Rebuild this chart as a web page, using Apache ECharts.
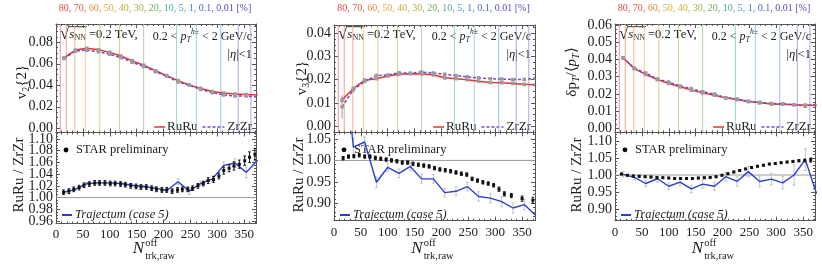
<!DOCTYPE html>
<html><head><meta charset="utf-8">
<script src="https://cdn.jsdelivr.net/npm/echarts@6/dist/echarts.min.js"></script>
<style>html,body{margin:0;padding:0;background:#fff}#c{width:822px;height:264px}</style>
</head><body><div id="c"></div>
<script>
// ---------------- data ----------------
const trajX = [15,36,57,79,100,121,142,163,185,206,227,248,269,291,312,333,354,375];

const v2RuRu = [0.0655,0.0728,0.0744,0.0730,0.0706,0.0672,0.0627,0.0587,0.0535,0.0490,0.0443,0.0404,0.0371,0.0342,0.0328,0.0318,0.0314,0.0310];
const v2ZrZr = [0.0649,0.0718,0.0727,0.0712,0.0689,0.0656,0.0614,0.0576,0.0527,0.0484,0.0431,0.0400,0.0362,0.0331,0.0311,0.0300,0.0301,0.0291];
const v2Err  = [0.0008,0.0007,0.0007,0.0007,0.0007,0.0007,0.0007,0.0007,0.0007,0.0007,0.0007,0.0007,0.0007,0.0007,0.0008,0.0008,0.0009,0.0010];

const v3RuRu = [0.0112,0.0162,0.0198,0.0204,0.0216,0.0223,0.0226,0.0225,0.0221,0.0208,0.0204,0.0200,0.0193,0.0188,0.0187,0.0184,0.0180,0.0178];
const v3ZrZr = [0.0083,0.0157,0.0192,0.0218,0.0220,0.0230,0.0228,0.0233,0.0229,0.0223,0.0218,0.0212,0.0208,0.0204,0.0203,0.0201,0.0201,0.0206];
const v3RuErr = [0.0012,0.0008,0.0006,0.0005,0.0005,0.0005,0.0005,0.0005,0.0005,0.0005,0.0005,0.0005,0.0005,0.0005,0.0005,0.0005,0.0006,0.0006];
const v3ZrErr = [0.0050,0.0012,0.0006,0.0005,0.0005,0.0005,0.0005,0.0005,0.0005,0.0005,0.0005,0.0005,0.0005,0.0005,0.0005,0.0005,0.0006,0.0006];

const dptRuRu = [0.0410,0.0347,0.0313,0.0283,0.0260,0.0241,0.0222,0.0206,0.0192,0.0177,0.0167,0.0157,0.0148,0.0142,0.0140,0.0137,0.0135,0.0132];
const dptZrZr = [0.0409,0.0349,0.0321,0.0286,0.0269,0.0246,0.0231,0.0212,0.0199,0.0178,0.0170,0.0155,0.0151,0.0144,0.0143,0.0137,0.0129,0.0140];
const dptErr  = [0.0004,0.0003,0.0003,0.0003,0.0003,0.0003,0.0003,0.0003,0.0003,0.0003,0.0003,0.0003,0.0003,0.0003,0.0003,0.0003,0.0003,0.0004];

const ratioV2Traj = [1.009,1.014,1.024,1.025,1.025,1.024,1.021,1.019,1.016,1.012,1.027,1.011,1.024,1.032,1.055,1.059,1.043,1.064];
const ratioV2Err  = [0.002,0.002,0.002,0.002,0.002,0.002,0.002,0.002,0.003,0.003,0.005,0.006,0.004,0.005,0.006,0.007,0.009,0.014];
const ratioV3Traj = [1.300,1.031,1.043,0.949,0.984,0.970,0.986,0.957,0.957,0.925,0.928,0.939,0.916,0.912,0.904,0.889,0.897,0.872];
const ratioV3Err  = [0.080,0.020,0.012,0.012,0.010,0.010,0.010,0.010,0.010,0.010,0.010,0.010,0.011,0.011,0.012,0.012,0.012,0.014];
const ratioDptTraj = [1.002,0.993,0.975,0.989,0.967,0.979,0.959,0.973,0.967,0.995,0.981,1.010,0.981,0.988,0.977,1.000,1.045,0.945];
const ratioDptErr  = [0.008,0.008,0.009,0.010,0.010,0.010,0.011,0.012,0.012,0.013,0.014,0.015,0.016,0.017,0.018,0.030,0.032,0.055];

const starX1 = [14,24,33,43,52,62,72,81,91,101,110,120,129,139,149,158,168,178,187,197,206,216,226,235,245,254,264,274,283,293,303,312,322,331,341,351,360,370];
const starV2 = [1.009,1.011,1.014,1.017,1.021,1.023,1.025,1.025,1.025,1.024,1.024,1.023,1.022,1.020,1.019,1.018,1.018,1.016,1.014,1.013,1.013,1.011,1.013,1.014,1.014,1.016,1.020,1.024,1.029,1.031,1.037,1.046,1.050,1.054,1.057,1.063,1.069,1.074];
const starV2Err = [0.004,0.004,0.004,0.004,0.004,0.004,0.004,0.004,0.004,0.004,0.004,0.004,0.004,0.004,0.004,0.004,0.004,0.004,0.004,0.004,0.004,0.004,0.004,0.004,0.004,0.004,0.004,0.004,0.005,0.005,0.005,0.006,0.006,0.007,0.007,0.008,0.009,0.010];

const starX2 = [17,27,37,47,57,67,77,87,97,107,117,127,137,147,157,167,177,187,197,207,217,227,237,247,257,267,277,287,297,307,317,330,350,370];
const starV3 = [1.005,1.009,1.010,1.012,1.009,1.009,1.006,1.004,1.002,1.000,0.998,0.995,0.995,0.992,0.990,0.988,0.986,0.982,0.979,0.977,0.975,0.972,0.969,0.967,0.957,0.953,0.949,0.946,0.942,0.933,0.922,0.918,0.911,0.907];
const starV3Err = [0.004,0.004,0.004,0.004,0.004,0.004,0.004,0.004,0.004,0.004,0.004,0.004,0.004,0.004,0.004,0.004,0.004,0.004,0.004,0.004,0.004,0.004,0.004,0.004,0.004,0.004,0.004,0.004,0.004,0.005,0.005,0.005,0.006,0.007];

const starX3 = [12,23,34,45,56,67,78,89,100,111,122,133,144,155,166,177,188,199,210,221,232,243,254,265,276,287,298,309,320,331,342,353,364];
const starDpt = [1.003,0.999,0.997,0.996,0.995,0.994,0.993,0.992,0.991,0.990,0.990,0.990,0.990,0.991,0.992,0.993,0.995,0.999,1.004,1.009,1.013,1.018,1.022,1.026,1.029,1.032,1.034,1.036,1.038,1.040,1.042,1.043,1.044];
const starDptErr = [0.002,0.002,0.002,0.002,0.002,0.002,0.002,0.002,0.002,0.002,0.002,0.002,0.002,0.002,0.002,0.002,0.002,0.002,0.002,0.002,0.002,0.002,0.002,0.002,0.002,0.002,0.002,0.002,0.002,0.003,0.003,0.004,0.006];

const centralityPct = ['80','70','60','50','40','30','20','10','5','1','0.1','0.01'];
const centralityN = [8,19,35,54.5,81.5,118,163,224,261,306.5,339,362.5];
const centralityLineColors = ['#f27b7b','#f28a72','#f3a272','#f1bf7a','#d9c472','#bfcb7c','#9cc993','#88c9b9','#92c2e2','#8aaaea','#8e96ea','#9c8ae2'];
const centralityTextColors = ['#e8463c','#e8603a','#ee8a3a','#e8a83c','#c8ac38','#a6b23e','#6cae5e','#4aa896','#3f9fc6','#3b7fd8','#4a5fd8','#5a48cc'];

const xTicks = [0,50,100,150,200,250,300,350];
const yTicksV2 = [0.00,0.02,0.04,0.06,0.08];
const yTicksV3 = [0.00,0.01,0.02,0.03,0.04];
const yTicksDpt = [0.00,0.01,0.02,0.03,0.04,0.05,0.06];
const yTicksR1 = [0.96,0.98,1.00,1.02,1.04,1.06,1.08,1.10];
const yTicksR2 = [0.90,0.95,1.00,1.05];
const yTicksR3 = [0.90,0.95,1.00,1.05,1.10];

// ---------------- helpers ----------------
const FONT = '"Liberation Serif","Times New Roman",serif';
const TXT = '#1c1c1c', FR = '#555555';
const RED = '#e4352b', PURPLE = '#7b43c9', BLUE = '#2b3fd6';
const zip3 = (a,b,c) => a.map((v,i)=>[v,b[i],c[i]]);
const zip2 = (a,b) => a.map((v,i)=>[v,b[i]]);
function minorVals(lo, hi, step, majors){
  const out=[]; const n=Math.round((hi-lo)/step);
  for(let k=0;k<=n;k++){ const v=+(lo+k*step).toFixed(6); if(!majors.some(m=>Math.abs(m-v)<1e-9)) out.push(v); }
  return out;
}

const panels = [
  {l:56,  w:200, t:24, m:132.5, b:223.5, xMax:372, yT:[-0.0039,0.097],  yB:[0.9557,1.1111], tT:yTicksV2,  tB:yTicksR1, sT:0.005, sB:0.005, mT:[0,0.095], mB:[0.96,1.11]},
  {l:334, w:201, t:25, m:132.3, b:220.7, xMax:374, yT:[-0.0027,0.0436], yB:[0.8594,1.0656], tT:yTicksV3,  tB:yTicksR2, sT:0.0025, sB:0.01, mT:[0,0.0425], mB:[0.86,1.06]},
  {l:615, w:200, t:24, m:132.3, b:220.7, xMax:372, yT:[-0.0023,0.0606], yB:[0.8656,1.1256], tT:yTicksDpt, tB:yTicksR3, sT:0.0025, sB:0.01, mT:[0,0.06], mB:[0.87,1.12]}
];

const grids=[], xAxes=[], yAxes=[], series=[];
const xMinor = minorVals(0, 370, 10, xTicks);

panels.forEach((P,pi)=>{
  [0,1].forEach(half=>{
    const gi = pi*2+half;
    const top = half===0 ? P.t : P.m;
    const h = half===0 ? P.m-P.t : P.b-P.m;
    grids.push({left:P.l, top:top, width:P.w, height:h, containLabel:false});
    const showX = half===1;
    const yr = half===0 ? P.yT : P.yB;
    const yt = half===0 ? P.tT : P.tB;
    const ytA = yt.filter((v,i)=>i%2===0), ytB = yt.filter((v,i)=>i%2===1);
    const ym = half===0 ? minorVals(P.mT[0],P.mT[1],P.sT,yt) : minorVals(P.mB[0],P.mB[1],P.sB,yt);
    const xbase = {gridIndex:gi, type:'value', min:0, max:P.xMax, splitLine:{show:false}};
    const ybase = {gridIndex:gi, type:'value', min:yr[0], max:yr[1], splitLine:{show:false}};
    const line = {show:true, onZero:false, lineStyle:{color:FR, width:1}};
    const noline = {show:false, onZero:false};
    const ylab = {show:true, margin:3, fontFamily:FONT, fontSize:14, color:TXT, showMinLabel:true, showMaxLabel:true, hideOverlap:false, formatter:v=>v.toFixed(2)};
    xAxes.push(Object.assign({}, xbase, {position:'bottom', axisLine:line,
      axisTick:{show:true, inside:true, length:4, customValues:xTicks, lineStyle:{color:FR}},
      axisLabel:{show:showX, customValues:xTicks, margin:5, fontFamily:FONT, fontSize:13, color:TXT, showMinLabel:true, showMaxLabel:true, hideOverlap:false}}));
    xAxes.push(Object.assign({}, xbase, {position:'bottom', axisLine:noline,
      axisTick:{show:true, inside:true, length:2, customValues:xMinor, lineStyle:{color:FR}}, axisLabel:{show:false}}));
    xAxes.push(Object.assign({}, xbase, {position:'top', axisLine:line,
      axisTick:{show:true, inside:true, length:4, customValues:xTicks, lineStyle:{color:FR}}, axisLabel:{show:false}}));
    xAxes.push(Object.assign({}, xbase, {position:'top', axisLine:noline,
      axisTick:{show:true, inside:true, length:2, customValues:xMinor, lineStyle:{color:FR}}, axisLabel:{show:false}}));
    yAxes.push(Object.assign({}, ybase, {position:'left', axisLine:line,
      axisTick:{show:true, inside:true, length:4, customValues:yt, lineStyle:{color:FR}},
      axisLabel:Object.assign({customValues:ytA}, ylab)}));
    yAxes.push(Object.assign({}, ybase, {position:'left', axisLine:noline,
      axisTick:{show:true, inside:true, length:2, customValues:ym, lineStyle:{color:FR}},
      axisLabel:Object.assign({customValues:ytB}, ylab)}));
    yAxes.push(Object.assign({}, ybase, {position:'right', axisLine:line,
      axisTick:{show:true, inside:true, length:4, customValues:yt, lineStyle:{color:FR}}, axisLabel:{show:false}}));
    yAxes.push(Object.assign({}, ybase, {position:'right', axisLine:noline,
      axisTick:{show:true, inside:true, length:2, customValues:ym, lineStyle:{color:FR}}, axisLabel:{show:false}}));
  });
});

function ax(gi){ return {xAxisIndex:gi*4, yAxisIndex:gi*4}; }

function errRender(color, cap, sq, lw){
  return function(params, api){
    const x=api.value(0), y=api.value(1), e=api.value(2);
    const c=api.coord([x,y]), hi=api.coord([x,y+e]), lo=api.coord([x,y-e]);
    const st={stroke:color, lineWidth:lw};
    const ch=[{type:'line', shape:{x1:c[0],y1:hi[1],x2:c[0],y2:lo[1]}, style:st}];
    if(cap){
      ch.push({type:'line', shape:{x1:c[0]-cap,y1:hi[1],x2:c[0]+cap,y2:hi[1]}, style:st});
      ch.push({type:'line', shape:{x1:c[0]-cap,y1:lo[1],x2:c[0]+cap,y2:lo[1]}, style:st});
    }
    if(sq){ ch.push({type:'rect', shape:{x:c[0]-sq/2,y:c[1]-sq/2,width:sq,height:sq}, style:{fill:color}}); }
    return {type:'group', children:ch};
  };
}
function vlineRender(params, api){
  const x=api.coord([api.value(0), 0])[0];
  const cs=params.coordSys;
  return {type:'line', shape:{x1:x,y1:cs.y,x2:x,y2:cs.y+cs.height}, style:{stroke:centralityLineColors[params.dataIndex], lineWidth:1, opacity:0.8}};
}
function hlineRender(params, api){
  const y=api.coord([0, api.value(1)])[1];
  const cs=params.coordSys;
  return {type:'line', shape:{x1:cs.x,y1:y,x2:cs.x+cs.width,y2:y}, style:{stroke:'#9a9a9a', lineWidth:1}};
}

const topData = [
  {ru:v2RuRu, zr:v2ZrZr, ruE:v2Err, zrE:v2Err},
  {ru:v3RuRu, zr:v3ZrZr, ruE:v3RuErr, zrE:v3ZrErr},
  {ru:dptRuRu, zr:dptZrZr, ruE:dptErr, zrE:dptErr}
];
const botData = [
  {tr:ratioV2Traj, trE:ratioV2Err, sx:starX1, sv:starV2, sE:starV2Err},
  {tr:ratioV3Traj, trE:ratioV3Err, sx:starX2, sv:starV3, sE:starV3Err},
  {tr:ratioDptTraj, trE:ratioDptErr, sx:starX3, sv:starDpt, sE:starDptErr}
];

panels.forEach((P,pi)=>{
  const gt=pi*2, gb=pi*2+1;
  const T=topData[pi], B=botData[pi];
  series.push(Object.assign({type:'custom', renderItem:vlineRender, data:centralityN.map((v,i)=>[v,i]), encode:{x:0,y:1}, silent:true, z:1, clip:true}, ax(gt)));
  series.push(Object.assign({type:'line', data:zip2(trajX,T.ru), showSymbol:false, lineStyle:{color:RED,width:1.5}, z:3, clip:true, silent:true}, ax(gt)));
  series.push(Object.assign({type:'line', data:zip2(trajX,T.zr), showSymbol:false, lineStyle:{color:PURPLE,width:1.5,type:[3,2]}, z:3, clip:true, silent:true}, ax(gt)));
  series.push(Object.assign({type:'custom', renderItem:errRender('#9c9c9c',0,3.6,1), data:zip3(trajX,T.ru,T.ruE), encode:{x:0,y:1}, z:4, clip:true, silent:true}, ax(gt)));
  series.push(Object.assign({type:'custom', renderItem:errRender('#9c9c9c',0,3.6,1), data:zip3(trajX,T.zr,T.zrE), encode:{x:0,y:1}, z:4, clip:true, silent:true}, ax(gt)));

  series.push(Object.assign({type:'custom', renderItem:hlineRender, data:[[0,1]], encode:{x:0,y:1}, z:1, silent:true, clip:true}, ax(gb)));
  series.push(Object.assign({type:'custom', renderItem:errRender('#c4c4c4',1.5,0,1), data:zip3(trajX,B.tr,B.trE), encode:{x:0,y:1}, z:2, clip:true, silent:true}, ax(gb)));
  series.push(Object.assign({type:'line', data:zip2(trajX,B.tr), showSymbol:false, lineStyle:{color:BLUE,width:1.4}, z:3, clip:true, silent:true}, ax(gb)));
  series.push(Object.assign({type:'custom', renderItem:errRender('#111111',1.3,3,1), data:zip3(B.sx,B.sv,B.sE), encode:{x:0,y:1}, z:4, clip:true, silent:true}, ax(gb)));
});

// ---------------- text graphics ----------------
const ctx=document.createElement('canvas').getContext('2d');
function F(s,it){ return (it?'italic ':'')+s+'px '+FONT; }
function W(t,s,it){ ctx.font=F(s,it); return ctx.measureText(t).width; }
function run(parts, align){
  let total=0; parts.forEach(p=>{ if(!p.noAdv) total+=W(p.t,p.s,p.i)+(p.gap||0); });
  let x = align==='right' ? -total : align==='center' ? -total/2 : 0;
  const ch=[];
  parts.forEach(p=>{
    ch.push({type:'text', x:x+(p.dx||0), y:(p.dy||0), silent:true,
      style:{text:p.t, font:F(p.s,p.i), fill:p.c||TXT, align:'left', verticalAlign:'middle'}});
    if(!p.noAdv) x+=W(p.t,p.s,p.i)+(p.gap||0);
  });
  return ch;
}
function tg(x,y,parts,align,rot){ return {type:'group', x:x, y:y, rotation:rot||0, silent:true, children:run(parts,align)}; }

const graphics=[];
const topYTitles = [
  {dx:-34, y:82, parts:[{t:'v',s:15},{t:'2',s:10,dy:4},{t:'{2}',s:15}]},
  {dx:-32, y:78, parts:[{t:'v',s:15},{t:'3',s:10,dy:4},{t:'{2}',s:15}]},
  {dx:-43, y:72, parts:[{t:'δp',s:15},{t:'T',s:10,i:true,dy:4},{t:'/⟨',s:15},{t:'p',s:15,i:true},{t:'T',s:10,i:true,dy:4},{t:'⟩',s:15}]}
];
const botYTitleDx = [-37,-35,-38];

panels.forEach((P,pi)=>{
  const R=P.l+P.w-4;
  const cparts=[];
  centralityPct.forEach((c,i)=>{ cparts.push({t:c+(i<centralityPct.length-1?', ':' '), s:10, c:centralityTextColors[i]}); });
  cparts.push({t:'[%]', s:10, c:'#6a44c8'});
  graphics.push(tg(P.l+P.w/2-1, 8, cparts, 'center'));
  // sqrt(sNN)
  const x0=P.l+4, y0=35;
  const wr=W('√',17,false), ws=W('s',13,true), wn=W('NN',8,false);
  graphics.push(tg(x0, y0, [{t:'√',s:17},{t:'s',s:13,i:true},{t:'NN',s:8,dy:3},{t:' =0.2 TeV,',s:12.5}], 'left'));
  graphics.push({type:'line', silent:true, shape:{x1:x0+wr-0.6, y1:y0-8.3, x2:x0+wr+ws+wn+1, y2:y0-8.3}, style:{stroke:TXT, lineWidth:0.9}});
  // pT range
  graphics.push(tg(R, 37, [{t:'0.2 < ',s:12},{t:'p',s:12,i:true},{t:'T',s:8,i:true,dy:3},{t:'h±',s:7.5,i:true,dy:-5},{t:' < 2 GeV/c',s:12}], 'right'));
  graphics.push(tg(R, 55, [{t:'|',s:12.5},{t:'η',s:12.5,i:true},{t:'|<1',s:12.5}], 'right'));
  // legend top
  const wZ=W('ZrZr',13,false), wRu=W('RuRu',13,false);
  const xZ=R-wZ, dashE=xZ-3, dashS=dashE-22, xRu=dashS-5-wRu, redE=xRu-2, redS=redE-11;
  const ly=127;
  graphics.push({type:'line', silent:true, shape:{x1:redS,y1:ly,x2:redE,y2:ly}, style:{stroke:RED,lineWidth:1.5}});
  graphics.push(tg(xRu, ly, [{t:'RuRu',s:13}], 'left'));
  graphics.push({type:'line', silent:true, shape:{x1:dashS,y1:ly,x2:dashE,y2:ly}, style:{stroke:PURPLE,lineWidth:1.5,lineDash:[3,2]}});
  graphics.push(tg(xZ, ly, [{t:'ZrZr',s:13}], 'left'));
  // legend bottom
  graphics.push({type:'circle', silent:true, shape:{cx:P.l+10, cy:P.m+17.5, r:2.4}, style:{fill:'#000'}});
  graphics.push(tg(P.l+20, P.m+17.5, [{t:'STAR preliminary',s:12.5}], 'left'));
  graphics.push({type:'line', silent:true, shape:{x1:P.l+6,y1:215,x2:P.l+16,y2:215}, style:{stroke:BLUE,lineWidth:2}});
  graphics.push(tg(P.l+19, 215, [{t:'Trajectum (case 5)',s:12.5,i:true}], 'left'));
  // x title
  const wN=W('N',17,true), wOff=W('off',10.5,false), wTrk=W('trk,raw',10.5,false);
  const tot=wN+Math.max(wOff,wTrk)+1;
  const xs=P.l+P.w/2-2-tot/2;
  graphics.push(tg(xs, 249, [{t:'N',s:17,i:true}], 'left'));
  graphics.push(tg(xs+wN+1, 243, [{t:'off',s:10.5}], 'left'));
  graphics.push(tg(xs+wN+1, 256, [{t:'trk,raw',s:10.5}], 'left'));
  // y titles
  const yt=topYTitles[pi];
  graphics.push(tg(P.l+yt.dx, yt.y, yt.parts, 'center', Math.PI/2));
  graphics.push(tg(P.l+botYTitleDx[pi], 175, [{t:'RuRu / ZrZr',s:15}], 'center', Math.PI/2));
});

const chart=echarts.init(document.getElementById('c'), null, {renderer:'canvas', width:822, height:264});
chart.setOption({
  animation:false,
  backgroundColor:'#ffffff',
  grid:grids, xAxis:xAxes, yAxis:yAxes, series:series,
  graphic:{elements:graphics}
});
</script></body></html>
